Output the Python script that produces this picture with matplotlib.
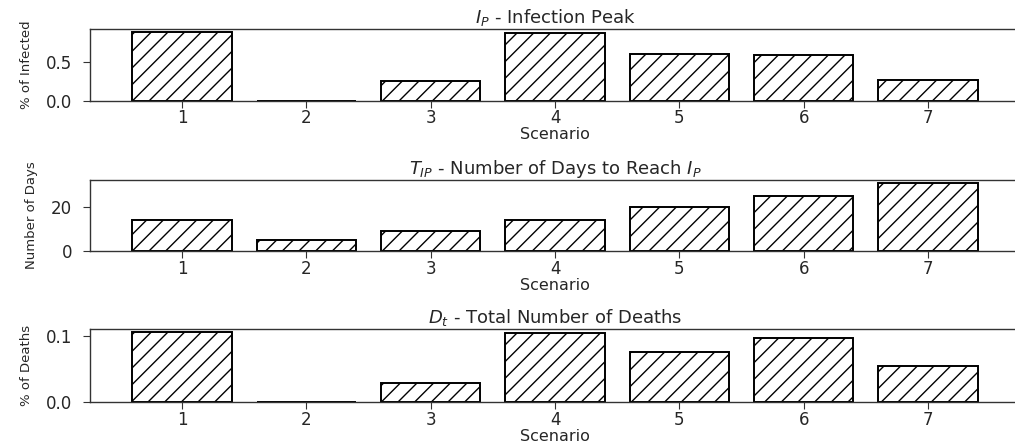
import matplotlib
matplotlib.use("Agg")
import matplotlib.pyplot as plt

scenarios = [1, 2, 3, 4, 5, 6, 7]
infection_peak = [0.88, 0.006, 0.256, 0.87, 0.60, 0.585, 0.27]
days_to_peak = [14, 5, 9, 14, 20, 25, 31]
total_deaths = [0.106, 0.0, 0.0294, 0.105, 0.0767, 0.098, 0.0549]

titles = [r"$I_P$ - Infection Peak",
          r"$T_{IP}$ - Number of Days to Reach $I_P$",
          r"$D_t$ - Total Number of Deaths"]
ylabels = ["% of Infected", "Number of Days", "% of Deaths"]
yticks = [[0.0, 0.5], [0, 20], [0.0, 0.1]]
yticklabels = [["0.0", "0.5"], ["0", "20"], ["0.0", "0.1"]]
series = [infection_peak, days_to_peak, total_deaths]

plt.rcParams['hatch.linewidth'] = 1.0
fig = plt.figure(figsize=(10.15, 4.45), dpi=100)

H = 445.0
W = 1015.0
boxes = [(29, 101), (179.5, 251.3), (329, 402.3)]
left_px, right_px = 90, 1020
txt = "#262626"

for i in range(3):
    top, bot = boxes[i]
    ax = fig.add_axes([left_px / W, 1 - bot / H, (right_px - left_px) / W, (bot - top) / H])
    ax.bar(scenarios, series[i], width=0.8, color="white", edgecolor="black",
           hatch="//", linewidth=1.4)
    ax.set_title(titles[i], fontsize=13, pad=4, color=txt)
    ax.set_xlabel("Scenario", fontsize=11.5, labelpad=0, color=txt)
    ax.set_ylabel(ylabels[i], fontsize=9.5, labelpad=9, color=txt)
    ax.set_xticks(scenarios)
    ax.set_xticklabels([str(s) for s in scenarios], fontsize=12, color=txt)
    ax.set_yticks(yticks[i])
    ax.set_yticklabels(yticklabels[i], fontsize=12, color=txt)
    ax.tick_params(axis="x", length=5, width=0.8, pad=1, color="#333333")
    ax.tick_params(axis="y", length=5, width=0.8, pad=8, color="#333333")
    for s in ax.spines.values():
        s.set_color("#333333")
        s.set_linewidth(1.0)

fig.savefig("out.png", dpi=100)
